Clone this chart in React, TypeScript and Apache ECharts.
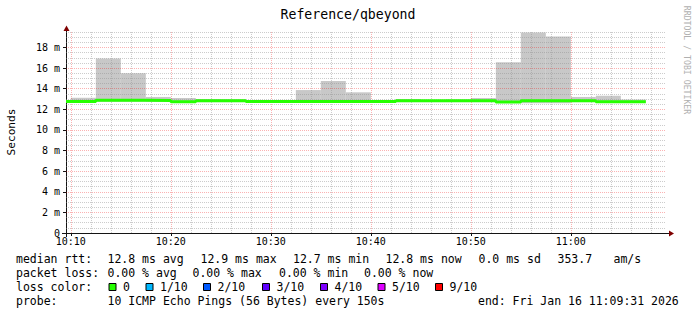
import React, { useEffect, useRef } from "react";
import * as echarts from "echarts";

// ---- data ----
const stepTimes = [
  "10:09:31", "10:10:00", "10:12:30", "10:15:00", "10:17:30", "10:20:00",
  "10:22:30", "10:25:00", "10:27:30", "10:30:00", "10:32:30", "10:35:00",
  "10:37:30", "10:40:00", "10:42:30", "10:45:00", "10:47:30", "10:50:00",
  "10:52:30", "10:55:00", "10:57:30", "11:00:00", "11:02:30", "11:05:00",
];
const lastStepEnd = "11:07:30";
const graphStart = "10:09:31";
const graphEnd = "11:09:31";

// median rtt (ms)
const medianRtt = [
  12.75, 12.75, 12.88, 12.88, 12.86, 12.74, 12.84, 12.84, 12.76, 12.76, 12.76, 12.76,
  12.76, 12.76, 12.83, 12.83, 12.83, 12.83, 12.72, 12.83, 12.83, 12.83, 12.74, 12.74,
];
// smoke lower edge (ms)
const minRtt = [
  12.68, 12.68, 12.74, 12.74, 12.72, 12.66, 12.7, 12.7, 12.68, 12.68, 12.68, 12.68,
  12.68, 12.68, 12.7, 12.7, 12.7, 12.7, 12.62, 12.58, 12.58, 12.7, 12.66, 12.66,
];
// smoke upper edge (ms)
const maxRtt = [
  12.8, 13.12, 16.92, 15.5, 13.2, 13.1, 13.0, 12.98, 12.85, 12.85, 13.87, 14.75,
  13.65, 12.88, 13.0, 12.88, 12.95, 13.1, 16.56, 19.45, 19.06, 13.2, 13.32, 12.95,
];

const xTickLabels = ["10:10", "10:20", "10:30", "10:40", "10:50", "11:00"];
const yTickValues = [0, 2, 4, 6, 8, 10, 12, 14, 16, 18];
const yMax = 19.6;

const lossLabels = ["0", "1/10", "2/10", "3/10", "4/10", "5/10", "9/10"];
const lossColors = ["#26ff00", "#00b8ff", "#0059ff", "#5e00ff", "#7e00ff", "#dd00ff", "#ff0000"];

const titleText = "Reference/qbeyond";
const yAxisName = "Seconds";
const watermark = "RRDTOOL / TOBI OETIKER";
const legendRtt = ["median rtt:", "12.8 ms avg", "12.9 ms max", "12.7 ms min", "12.8 ms now", "0.0 ms sd", "353.7", "am/s"];
const legendLoss = ["packet loss:", "0.00 % avg", "0.00 % max", "0.00 % min", "0.00 % now"];
const legendLossColorTitle = "loss color:";
const legendProbe = ["probe:", "10 ICMP Echo Pings (56 Bytes) every 150s", "end: Fri Jan 16 11:09:31 2026"];

// ---- helpers ----
const toMin = (s: string) => {
  const p = s.split(":").map(Number);
  return (p[0] - 10) * 60 + p[1] + (p[2] || 0) / 60;
};

const MONO = "DejaVu Sans Mono";

export default function App() {
  const ref = useRef<HTMLDivElement>(null);

  useEffect(() => {
    if (!ref.current) return;
    const chart = echarts.init(ref.current, null, { renderer: "svg" });

    const xs = stepTimes.map(toMin);
    const xEnd = toMin(lastStepEnd);
    const stepEnds = xs.map((_, i) => (i + 1 < xs.length ? xs[i + 1] : xEnd));
    const withEnd = (arr: number[]) => {
      const pts = arr.map((v, i) => [xs[i], v]);
      pts.push([xEnd, arr[arr.length - 1]]);
      return pts;
    };
    const smokeData = xs.map((x, i) => [x, stepEnds[i], minRtt[i], maxRtt[i]]);

    const xTickValues = xTickLabels.map((l) => toMin(l));
    const xMin = toMin(graphStart);
    const xMax = toMin(graphEnd);

    // grid lines
    const minorStyle = { color: "rgba(143,143,143,0.45)", width: 1, type: [1, 1] as any };
    const majorStyle = { color: "rgba(242,0,0,0.3)", width: 1, type: [1, 1] as any };
    const gridLines: any[] = [];
    for (let m = Math.ceil(xMin / 2) * 2; m <= xMax; m += 2) {
      const major = xTickValues.some((t) => Math.abs(t - m) < 1e-6);
      gridLines.push({ xAxis: m, lineStyle: major ? majorStyle : minorStyle });
    }
    for (let k = 1; k * 0.5 <= yMax; k++) {
      const v = k * 0.5;
      const major = yTickValues.includes(v);
      gridLines.push({ yAxis: v, lineStyle: major ? majorStyle : minorStyle });
    }

    const legendY = [259.3, 273.3, 287.3, 301.3];
    const txt = (x: number, y: number, s: string, extra: any = {}) => ({
      type: "text",
      x,
      y,
      style: {
        text: s,
        fill: "#000",
        font: `11.5px "${MONO}"`,
        verticalAlign: "middle",
        align: "left",
        ...extra,
      },
      silent: true,
    });

    const rttX = [16, 107.5, 200.5, 293, 385.5, 478.5, 557.5, 613.5];
    const lossX = [16, 107.5, 192.5, 279, 364];
    const boxX = [108.5, 145.5, 203, 262, 320, 377.5, 435];
    const probeX = [16, 107.5, 478];

    const graphics: any[] = [
      {
        type: "text",
        x: 348,
        y: 14,
        style: { text: titleText, fill: "#000", font: `13.2px "${MONO}"`, align: "center", verticalAlign: "middle" },
      },
      {
        type: "text",
        x: 11,
        y: 132,
        rotation: Math.PI / 2,
        style: { text: yAxisName, fill: "#000", font: `11.2px "${MONO}"`, align: "center", verticalAlign: "middle" },
      },
      {
        type: "text",
        x: 687,
        y: 60,
        rotation: -Math.PI / 2,
        style: { text: watermark, fill: "#b0b0b0", font: `8.2px "${MONO}"`, align: "center", verticalAlign: "middle" },
      },
      // axis lines and arrows
      { type: "line", shape: { x1: 62, y1: 233.5, x2: 669, y2: 233.5 }, style: { stroke: "#141414", lineWidth: 1 } },
      { type: "line", shape: { x1: 66.5, y1: 237, x2: 66.5, y2: 29 }, style: { stroke: "#141414", lineWidth: 1 } },
      { type: "polygon", shape: { points: [[669, 230.5], [674, 233.5], [669, 236.5]] }, style: { fill: "#7f0000" } },
      { type: "polygon", shape: { points: [[63.5, 31], [66.5, 25.5], [69.5, 31]] }, style: { fill: "#7f0000" } },
    ];
    legendRtt.forEach((s, i) => graphics.push(txt(rttX[i], legendY[0], s)));
    legendLoss.forEach((s, i) => graphics.push(txt(lossX[i], legendY[1], s)));
    graphics.push(txt(16, legendY[2], legendLossColorTitle));
    lossLabels.forEach((s, i) => {
      graphics.push({
        type: "rect",
        shape: { x: boxX[i] + 0.5, y: 283.5, width: 7, height: 7 },
        style: { fill: lossColors[i], stroke: "#000", lineWidth: 1 },
      });
      graphics.push(txt(boxX[i] + 14.5, legendY[2], s));
    });
    legendProbe.forEach((s, i) => graphics.push(txt(probeX[i], legendY[3], s)));

    const option: any = {
      animation: false,
      backgroundColor: "#ffffff",
      grid: { left: 66, top: 31, width: 600, height: 202, containLabel: false },
      xAxis: {
        type: "value",
        min: xMin,
        max: xMax,
        axisLine: { show: false },
        splitLine: { show: false },
        axisTick: { show: true, length: 3, customValues: xTickValues, lineStyle: { color: "#141414" } },
        axisLabel: {
          customValues: xTickValues,
          margin: 4,
          lineHeight: 8,
          color: "#000",
          fontFamily: MONO,
          fontSize: 10,
          formatter: (v: number) => {
            const i = xTickValues.findIndex((t) => Math.abs(t - v) < 1e-6);
            return i >= 0 ? xTickLabels[i] : "";
          },
        },
      },
      yAxis: {
        type: "value",
        min: 0,
        max: yMax,
        axisLine: { show: false },
        splitLine: { show: false },
        axisTick: { show: true, length: 3, customValues: yTickValues, lineStyle: { color: "#141414" } },
        axisLabel: {
          customValues: yTickValues,
          margin: 6,
          lineHeight: 8,
          color: "#000",
          fontFamily: MONO,
          fontSize: 10,
          formatter: (v: number) => (v === 0 ? "0" : `${v} m`),
        },
      },
      graphic: graphics,
      series: [
        {
          name: "smoke",
          type: "custom",
          z: 2,
          silent: true,
          encode: { x: [0, 1], y: [2, 3] },
          data: smokeData,
          renderItem: (params: any, api: any) => {
            const p1 = api.coord([api.value(0), api.value(3)]);
            const p2 = api.coord([api.value(1), api.value(2)]);
            return {
              type: "rect",
              shape: { x: p1[0], y: p1[1], width: p2[0] - p1[0], height: p2[1] - p1[1] },
              style: { fill: "#c8c8c8" },
            };
          },
          markLine: {
            silent: true,
            symbol: ["none", "none"],
            label: { show: false },
            z: 3,
            data: gridLines,
          },
        },
        {
          name: "median",
          type: "line",
          step: "end",
          symbol: "none",
          z: 6,
          lineStyle: { width: 3, color: lossColors[0], cap: "butt" },
          data: withEnd(medianRtt),
          silent: true,
        },
      ],
    };

    chart.setOption(option);
    return () => chart.dispose();
  }, []);

  return (
    <div
      ref={ref}
      style={{ position: "fixed", left: 0, top: 0, width: 697, height: 315, background: "#fff" }}
    />
  );
}
